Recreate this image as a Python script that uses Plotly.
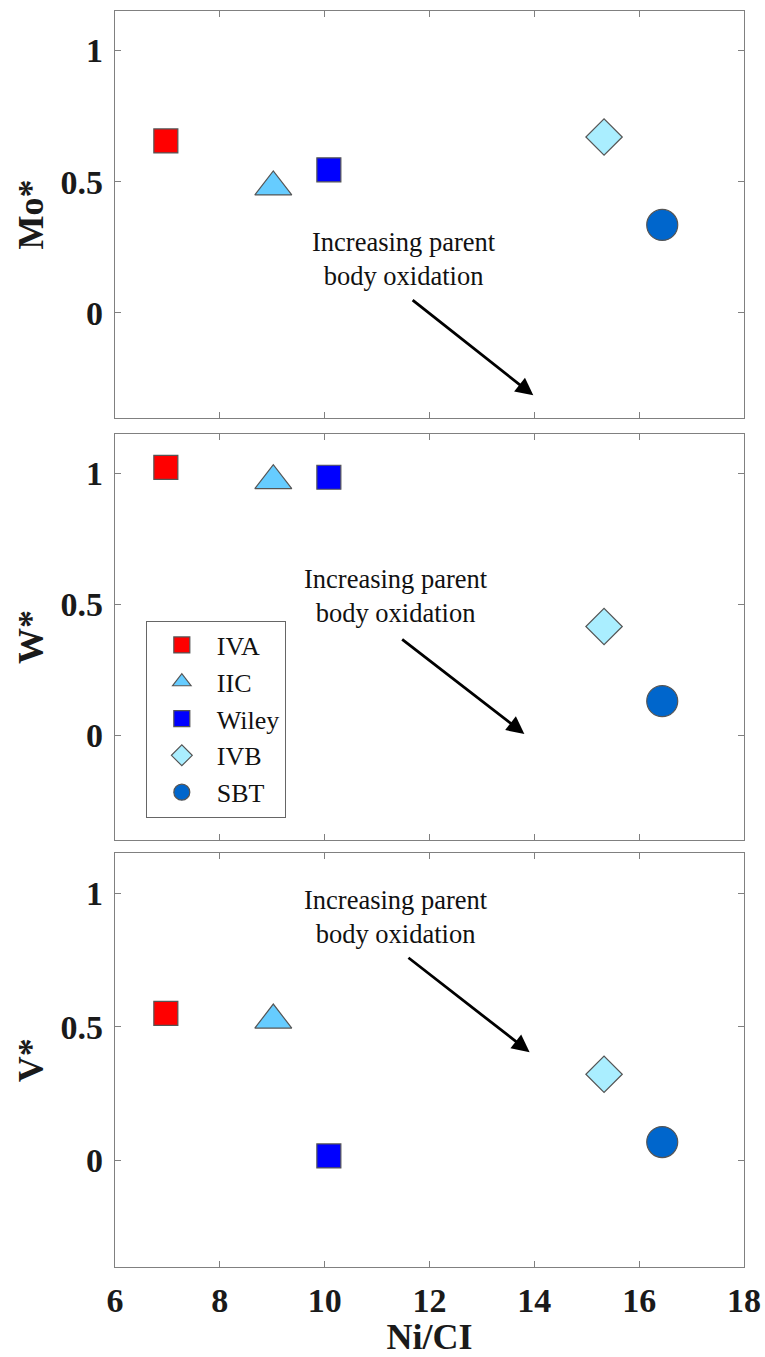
import plotly.graph_objects as go

# ---------------- data ----------------
groups = ["IVA", "IIC", "Wiley", "IVB", "SBT"]
ni_ci = [6.97, 9.02, 10.08, 15.33, 16.44]
mo_star = [0.655, 0.48, 0.545, 0.67, 0.335]
w_star = [1.023, 0.972, 0.985, 0.415, 0.13]
v_star = [0.55, 0.525, 0.016, 0.322, 0.068]

x_ticks = [6, 8, 10, 12, 14, 16, 18]
y_ticks = [0, 0.5, 1]
y_ticktext = ["0", "0.5", "1"]

# ---------------- styles ----------------
symbols = ["square", "triangle-up", "square", "diamond", "circle"]
colors = ["#FF0000", "#66CCFF", "#0000FF", "#AAEEFF", "#0066CC"]
sizes = [24, 32, 24, 28, 31]

SERIF = "Liberation Serif, Times New Roman, serif"
AXIS_COL = "#808080"

panels = [("Mo*", mo_star), ("W*", w_star), ("V*", v_star)]
domains = [[0.676, 1.0], [0.340, 0.6632], [0.0, 0.3294]]

# arrows (tail -> head) and annotation text positions for each panel
arrows = [
    ((11.65, 0.053), (13.98, -0.314)),
    ((11.45, 0.370), (13.81, 0.005)),
    ((11.57, 0.763), (13.91, 0.405)),
]
text_pos = [(11.51, 0.205), (11.36, 0.530), (11.36, 0.913)]

fig = go.Figure()

for p, (label, vals) in enumerate(panels):
    xa = "x" if p == 0 else f"x{p+1}"
    ya = "y" if p == 0 else f"y{p+1}"
    for i, g in enumerate(groups):
        fig.add_trace(go.Scatter(
            x=[ni_ci[i]], y=[vals[i]],
            mode="markers",
            name=g,
            legendgroup=g,
            showlegend=(p == 1),
            xaxis=xa, yaxis=ya,
            marker=dict(symbol=symbols[i], color=colors[i], size=sizes[i],
                        line=dict(color="#555555", width=1.2)),
        ))

layout = dict(
    width=765, height=1357,
    margin=dict(l=115, r=21, t=11, b=90),
    paper_bgcolor="white", plot_bgcolor="white",
    font=dict(family=SERIF, color="#1a1a1a"),
    legend=dict(
        x=0.049, y=0.5147, xanchor="left", yanchor="top",
        bgcolor="white", bordercolor="#666666", borderwidth=1,
        font=dict(family=SERIF, size=26, color="#111111"),
        tracegroupgap=0, itemwidth=60,
    ),
    showlegend=True,
)

for p, (label, vals) in enumerate(panels):
    xk = "xaxis" if p == 0 else f"xaxis{p+1}"
    yk = "yaxis" if p == 0 else f"yaxis{p+1}"
    yname = "y" if p == 0 else f"y{p+1}"
    xname = "x" if p == 0 else f"x{p+1}"
    bottom = (p == 2)
    layout[xk] = dict(
        range=[6, 18], anchor=yname, domain=[0, 1],
        tickvals=x_ticks, ticktext=[f"<b>{t}</b>" for t in x_ticks],
        showticklabels=bottom,
        ticks="inside", ticklen=6, tickcolor=AXIS_COL, tickwidth=1.2,
        showline=True, linecolor=AXIS_COL, linewidth=1.4, mirror="ticks",
        showgrid=False, zeroline=False,
        tickfont=dict(family=SERIF, size=34, color="#1a1a1a"),
        ticklabelstandoff=3,
        title=dict(text="<b>Ni/CI</b>" if bottom else "",
                   font=dict(family=SERIF, size=36, color="#1a1a1a"),
                   standoff=3),
        automargin=False,
    )
    if p > 0:
        layout[xk]["matches"] = "x"
    layout[yk] = dict(
        range=[-0.4, 1.15], anchor=xname, domain=domains[p],
        tickvals=y_ticks, ticktext=[f"<b>{t}</b>" for t in y_ticktext],
        ticks="inside", ticklen=6, tickcolor=AXIS_COL, tickwidth=1.2,
        showline=True, linecolor=AXIS_COL, linewidth=1.4, mirror="ticks",
        showgrid=False, zeroline=False,
        tickfont=dict(family=SERIF, size=34, color="#1a1a1a"),
        ticklabelstandoff=4,
        title=dict(text=f"<b>{label}</b>",
                   font=dict(family=SERIF, size=36, color="#1a1a1a"),
                   standoff=5),
        automargin=False,
    )

fig.update_layout(**layout)

annotations = []
shapes = []
for p in range(3):
    xname = "x" if p == 0 else f"x{p+1}"
    yname = "y" if p == 0 else f"y{p+1}"
    (tx, ty), (hx, hy) = arrows[p]
    annotations.append(dict(
        x=hx, y=hy, ax=tx, ay=ty, xref=xname, yref=yname,
        axref=xname, ayref=yname, text="", showarrow=True,
        arrowhead=2, arrowsize=1.25, arrowwidth=2.8, arrowcolor="black",
    ))
    cx, cy = text_pos[p]
    annotations.append(dict(
        x=cx, y=cy, xref=xname, yref=yname, showarrow=False,
        text="Increasing parent<br>body oxidation",
        font=dict(family=SERIF, size=26.5, color="#111111"),
        align="center", xanchor="center", yanchor="middle",
    ))
    if p > 0:
        # gap at the top of the left border (as in the original figure)
        shapes.append(dict(
            type="line", xref=xname, yref=yname,
            x0=6, x1=6, y0=1.04, y1=1.144,
            line=dict(color="white", width=4), layer="above",
        ))

fig.update_layout(annotations=annotations, shapes=shapes)

fig.write_html("out.html", config={"displayModeBar": False},
               post_script="document.body.style.margin='0';")
